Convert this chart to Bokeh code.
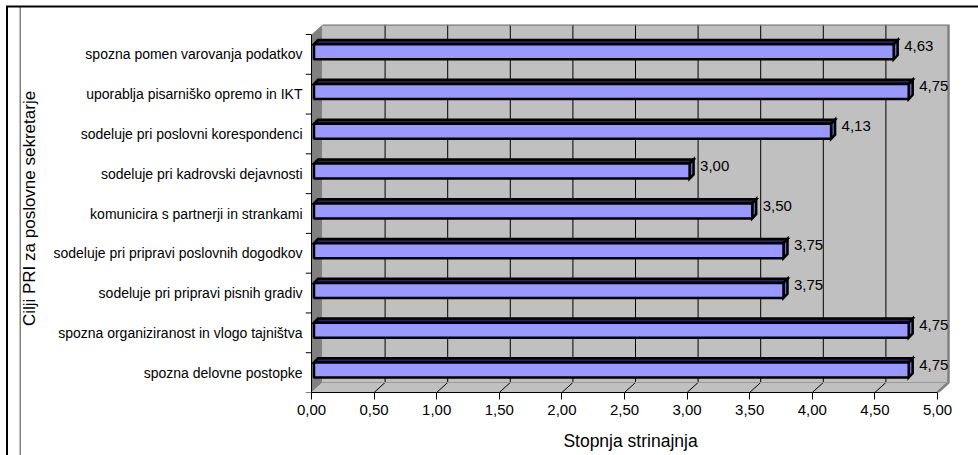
import numpy as np
from bokeh.plotting import figure
from bokeh.models import Range1d, FixedTicker, CustomJSTickFormatter
from bokeh.core.properties import value
from bokeh.embed import file_html
from bokeh.resources import INLINE

# ---------------- data ----------------
categories = [
    "spozna delovne postopke",
    "spozna organiziranost in vlogo tajništva",
    "sodeluje pri pripravi pisnih gradiv",
    "sodeluje pri pripravi poslovnih dogodkov",
    "komunicira s partnerji in strankami",
    "sodeluje pri kadrovski dejavnosti",
    "sodeluje pri poslovni korespondenci",
    "uporablja pisarniško opremo in IKT",
    "spozna pomen varovanja podatkov",
]
values = [4.75, 4.75, 3.75, 3.75, 3.50, 3.00, 4.13, 4.75, 4.63]
x_ticks = [0.0, 0.5, 1.0, 1.5, 2.0, 2.5, 3.0, 3.5, 4.0, 4.5, 5.0]
x_title = "Stopnja strinajnja"
y_title = "Cilji PRI za poslovne sekretarje"

# ---------------- geometry (pixels -> data units) ----------------
W, H = 978, 455
FR_L, FR_R, FR_T, FR_B = 305, 955, 24, 392
X0_PX = 311
PX_X = (937 - 311) / 5.0
N = len(categories)
PX_Y = (392 - 34) / N

XMAX = x_ticks[-1]
DX = 11 / PX_X
DY = 10 / PX_Y
OX = 2.5 / PX_X
OY = 2.6 / PX_Y
BH = 15 / PX_Y
BDX = 4 / PX_X
BDY = 4.2 / PX_Y

FONT = "Liberation Sans"

p = figure(
    width=W, height=H, output_backend="svg", toolbar_location=None,
    x_range=Range1d((FR_L - X0_PX) / PX_X, (FR_R - X0_PX) / PX_X),
    y_range=Range1d(0, (FR_B - FR_T) / PX_Y),
    min_border_left=FR_L, min_border_right=W - FR_R,
    min_border_top=FR_T, min_border_bottom=H - FR_B,
)
p.outline_line_color = None
p.grid.visible = False
p.background_fill_color = "white"
p.border_fill_color = None
# page frame lines of the surrounding document
p.styles = {
    "box-shadow": ("inset 6px 5.5px 0 0 white, inset 8px 7.5px 0 0 black, "
                   "inset 19.5px 0 0 0 white, inset 21px 0 0 0 #808080"),
    "background-color": "white",
}

# walls
p.patch([0, DX, DX, 0], [0, DY, N + DY, N], fill_color="#808080", line_color=None)
p.patch([0, XMAX, XMAX + DX, DX], [0, 0, DY, DY], fill_color="#c0c0c0", line_color=None)
p.quad(left=[DX], right=[XMAX + DX], bottom=[DY], top=[N + DY],
       fill_color="#c0c0c0", line_color=None)
inner = x_ticks[1:-1]
p.segment(x0=[t + DX for t in inner], y0=[DY] * len(inner),
          x1=[t + DX for t in inner], y1=[N + DY] * len(inner),
          line_color="#000000", line_width=1)
p.segment(x0=inner, y0=[0] * len(inner),
          x1=[t + DX for t in inner], y1=[DY] * len(inner),
          line_color="#000000", line_width=1)
p.line([DX, XMAX + DX, XMAX + DX, XMAX], [N + DY, N + DY, DY, 0],
       line_color="#808080", line_width=2.5)
p.line([DX, XMAX + DX], [DY, DY], line_color="#9a9a9a", line_width=1)

# left axis line and boundary ticks
x_left = (FR_L - X0_PX) / PX_X
p.segment(x0=[0], y0=[0], x1=[0], y1=[N], line_color="black", line_width=1)
p.segment(x0=[x_left] * (N + 1), y0=list(range(N + 1)),
          x1=[0] * (N + 1), y1=list(range(N + 1)), line_color="black", line_width=1)

# bars (3D)
centers = [i + 0.5 for i in range(N)]
bot = [c + OY - BH / 2 for c in centers]
top = [c + OY + BH / 2 for c in centers]
top_xs = [[OX, v + OX, v + OX + BDX, OX + BDX] for v in values]
top_ys = [[t, t, t + BDY, t + BDY] for t in top]
p.patches(top_xs, top_ys, fill_color="#26265e", line_color="black", line_width=2.5,
          line_join="miter")
cap_xs = [[v + OX, v + OX + BDX, v + OX + BDX, v + OX] for v in values]
cap_ys = [[b, b + BDY, t + BDY, t] for b, t in zip(bot, top)]
p.patches(cap_xs, cap_ys, fill_color="#6b6bc0", line_color="black", line_width=2.5,
          line_join="miter")
p.quad(left=[OX] * N, right=[v + OX for v in values], bottom=bot, top=top,
       fill_color="#9999ff", line_color="black", line_width=2.5)

# value labels
p.text(x=values, y=centers, text=[f"{v:.2f}".replace(".", ",") for v in values],
       x_offset=13, y_offset=-8, text_align="left", text_baseline="middle",
       text_font=value(FONT), text_font_size="15px", text_color="black")

# x axis
xa = p.xaxis[0]
xa.ticker = FixedTicker(ticks=x_ticks)
xa.bounds = (0, XMAX)
xa.formatter = CustomJSTickFormatter(code="return tick.toFixed(2).replace('.', ',');")
xa.major_tick_out = 7
xa.major_tick_in = 0
xa.minor_tick_line_color = None
xa.axis_line_color = "black"
xa.major_label_standoff = 5
xa.major_label_text_font = FONT
xa.major_label_text_font_size = "15px"
xa.major_label_text_color = "black"
xa.axis_label = x_title
xa.axis_label_text_font = FONT
xa.axis_label_text_font_size = "17.5px"
xa.axis_label_text_font_style = "normal"
xa.axis_label_text_color = "black"
xa.axis_label_standoff = 13

# y axis
ya = p.yaxis[0]
ya.ticker = FixedTicker(ticks=centers)
ya.major_label_overrides = {c: cat for c, cat in zip(centers, categories)}
ya.major_tick_out = 0
ya.major_tick_in = 0
ya.minor_tick_line_color = None
ya.axis_line_color = None
ya.major_label_standoff = 3
ya.major_label_text_font = FONT
ya.major_label_text_font_size = "14px"
ya.major_label_text_color = "black"
ya.axis_label = y_title
ya.axis_label_text_font = FONT
ya.axis_label_text_font_size = "17px"
ya.axis_label_text_font_style = "normal"
ya.axis_label_text_color = "black"
ya.axis_label_standoff = 11

open("out.html", "w").write(file_html(p, INLINE))
